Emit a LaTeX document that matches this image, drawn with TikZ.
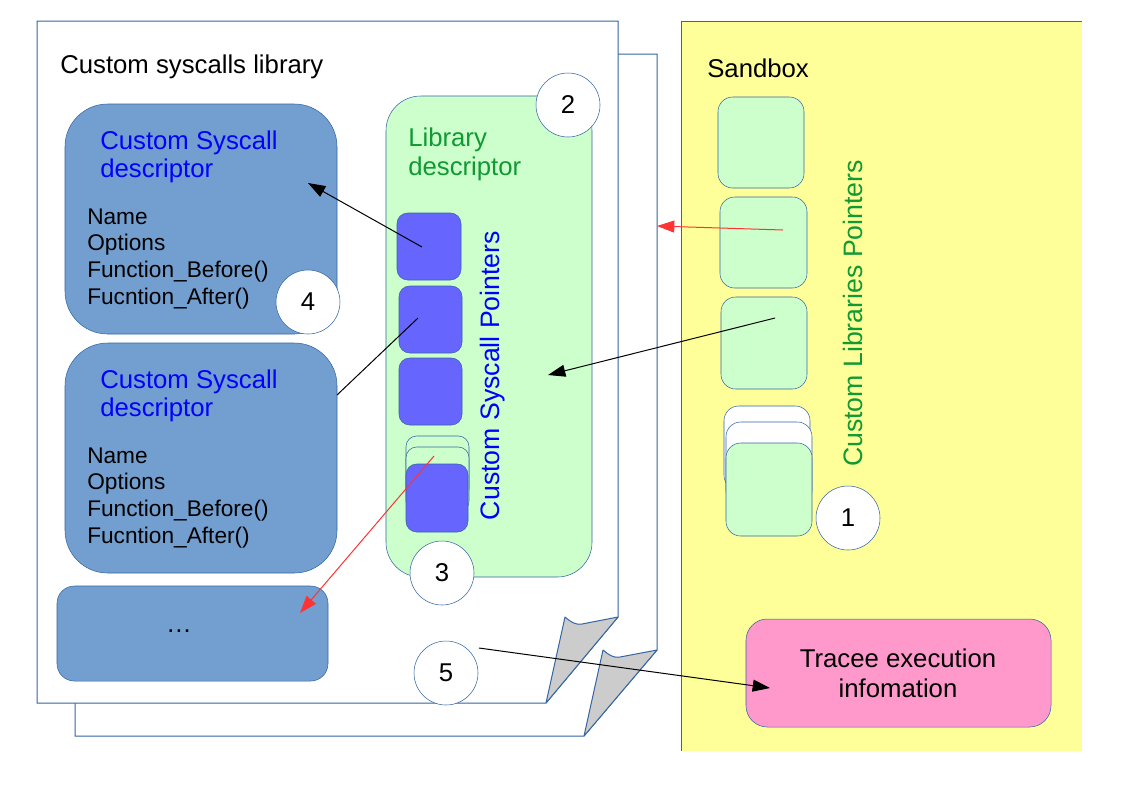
\documentclass[tikz,border=0pt]{standalone}
\usepackage{fontspec}
\setmainfont{Liberation Sans}
\usetikzlibrary{arrows.meta,fit}

\definecolor{linec}{HTML}{3465A4}
\definecolor{descfill}{HTML}{729FCF}
\definecolor{libfill}{HTML}{CCFFCC}
\definecolor{ptrfill}{HTML}{6666FF}
\definecolor{sandfill}{HTML}{FFFF99}
\definecolor{tracefill}{HTML}{FF99CC}
\definecolor{foldgray}{HTML}{CCCCCC}
\definecolor{greentxt}{HTML}{119933}
\definecolor{bluetxt}{HTML}{0000FF}
\definecolor{redline}{HTML}{FF3333}

\begin{document}
\begin{tikzpicture}[x=0.75pt,y=-0.75pt,
    page/.style={draw=linec,fill=white,line width=0.75pt},
    fold/.style={draw=linec,fill=foldgray,line width=0.75pt,line join=round},
    descbox/.style={draw=linec,fill=descfill,rounded corners=32pt,inner sep=0pt},
    libpanel/.style={draw=linec,fill=libfill,rounded corners=26pt,inner sep=0pt},
    ptrbox/.style={draw=linec,fill=ptrfill,rounded corners=8pt,inner sep=0pt},
    libbox/.style={draw=linec,fill=libfill,rounded corners=11pt,inner sep=0pt},
    num/.style={circle,draw=linec,fill=white,minimum size=48pt,inner sep=0pt,
        font=\fontsize{19.3}{22}\selectfont},
    title/.style={inner sep=0pt,anchor=base west,font=\fontsize{19.3}{22}\selectfont},
    item/.style={inner sep=0pt,anchor=base west,font=\fontsize{17}{20}\selectfont},
    vert/.style={inner sep=0pt,anchor=base,rotate=90,font=\fontsize{20}{24}\selectfont},
    arr/.style={line width=0.75pt,-{Triangle[length=13pt,width=9pt]}}]
\useasboundingbox (0,0) rectangle (1123,794);

% the two library pages
\draw[page] (75,54) -- (657,54) -- (657,650) -- (584,736) -- (75,736) -- cycle;
\draw[fold] (603,650) .. controls (609,655) and (613,658) .. (620,657) -- (657,650) -- (584,736) -- cycle;
\draw[page] (37,21) -- (618,21) -- (618,617) -- (546,703) -- (37,703) -- cycle;
\draw[fold] (565,617) .. controls (571,622) and (575,625) .. (582,624) -- (618,617) -- (546,703) -- cycle;
\node[title] (libtitle) at (60,73) {Custom syscalls library};

% sandbox
\fill[sandfill] (681,21) rectangle (1082,751);
\draw[draw=linec,line width=0.75pt] (681,751) -- (681,21) -- (1082,21);
\node[title] (sandtitle) at (707,77) {Sandbox};

% custom syscall descriptors
\foreach \d/\y in {1/104,2/343} {
  \node[descbox,fit={(65,\y) (337,\y+230)}] (desc\d) {};
  \node[title,text=bluetxt] (desc\d t) at (100,\y+45) {Custom Syscall};
  \node[title,text=bluetxt] (desc\d u) at (100,\y+73) {descriptor};
  \foreach \t [count=\i from 0] in {Name,Options,Function\_Before(),Fucntion\_After()}
    \node[item] (desc\d i\i) at (87,\y+120+26.7*\i) {\t};
}
\node[descbox,rounded corners=13pt,fit={(57,586) (328,681)}] (descmore) {};
\node[title,anchor=base] (dots) at (179,632) {…};

% library descriptor
\node[libpanel,fit={(386,96) (592,577)}] (libdesc) {};
\node[title,text=greentxt] (libdesct) at (408,146) {Library};
\node[title,text=greentxt] (libdescu) at (408,175) {descriptor};
\node[ptrbox,fit={(397,213) (461,280)}] (ptr1) {};
\node[ptrbox,fit={(399,286) (462,353)}] (ptr2) {};
\node[ptrbox,fit={(399,358) (462,425)}] (ptr3) {};
\node[ptrbox,fill=libfill,fit={(406,436) (469,500)}] (ptr4a) {};
\node[ptrbox,fill=libfill,fit={(406,447) (469,512)}] (ptr4b) {};
\node[ptrbox,fit={(406,464) (468,532)}] (ptr4) {};
\node[vert,text=bluetxt] (ptrlabel) at (499,375.5) {Custom Syscall Pointers};

% custom libraries pointers
\node[libbox,fit={(718,97) (804,188)}] (lib1) {};
\node[libbox,fit={(720,197) (807,288)}] (lib2) {};
\node[libbox,fit={(721,297) (807,389)}] (lib3) {};
\node[libbox,fill=white,fit={(724,406) (810,490)}] (lib4a) {};
\node[libbox,fill=white,fit={(726,422) (812,506)}] (lib4b) {};
\node[libbox,fit={(726,443) (812,536)}] (lib4) {};
\node[vert,text=greentxt] (liblabel) at (862,313.5) {Custom Libraries Pointers};

% tracee execution information
\node[libbox,fill=tracefill,rounded corners=16pt,fit={(746,619) (1051,727)}] (trace) {};
\node[title,anchor=base] (tracet) at (898,667) {Tracee execution};
\node[title,anchor=base] (traceu) at (898,697) {infomation};

% numbers
\node[num] (n1) at (848,518) {1};
\node[num] (n2) at (568,105) {2};
\node[num] (n3) at (442,573) {3};
\node[num] (n4) at (308,302) {4};
\node[num] (n5) at (446,673) {5};

% connectors
\coordinate (p1) at (422,247);
\coordinate (d1) at (308,183);
\coordinate (p2) at (418,318);
\coordinate (d2) at (337,395);
\coordinate (p4) at (434,456);
\coordinate (dm) at (300,613);
\coordinate (l2) at (783,230);
\coordinate (pg) at (657,226);
\coordinate (l3) at (775,318);
\coordinate (ld) at (548,375);
\coordinate (s5) at (479,648);
\coordinate (te) at (770,688);
\draw[arr] (p1) -- (d1);
\draw[line width=0.75pt] (p2) -- (d2);
\draw[arr,redline] (p4) -- (dm);
\draw[arr,redline] (l2) -- (pg);
\draw[arr] (l3) -- (ld);
\draw[arr] (s5) -- (te);
\end{tikzpicture}
\end{document}
